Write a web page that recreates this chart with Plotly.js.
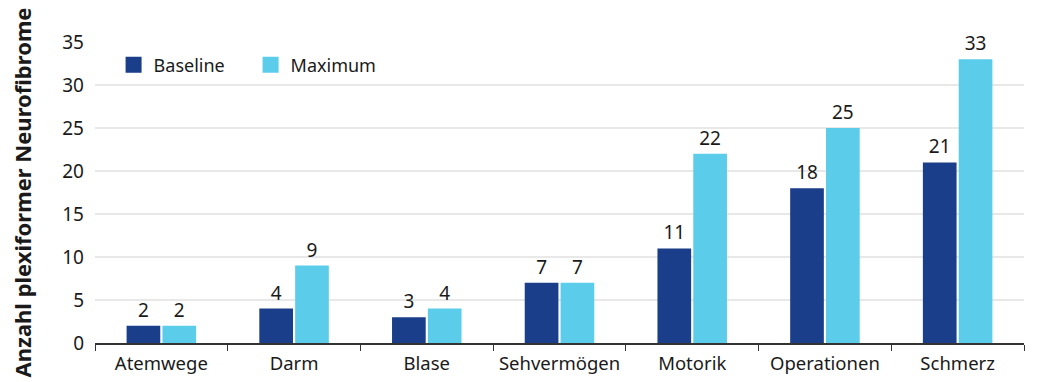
<!DOCTYPE html>
<html>
<head>
<meta charset="utf-8">
<script src="https://cdn.plot.ly/plotly-3.0.1.min.js"></script>
<style>html,body{margin:0;padding:0;background:#fff;}#chart{width:1054px;height:382px;}</style>
</head>
<body>
<div id="chart"></div>
<script>
const categories = ["Atemwege", "Darm", "Blase", "Sehvermögen", "Motorik", "Operationen", "Schmerz"];
const baseline = [2, 4, 3, 7, 11, 18, 21];
const maximum = [2, 9, 4, 7, 22, 25, 33];
const yTicks = [0, 5, 10, 15, 20, 25, 30, 35];
const seriesNames = ["Baseline", "Maximum"];
const seriesColors = ["#1a3e8a", "#5bcdea"];

const fontFam = "'Noto Sans', sans-serif";
const traces = [
  {type: "bar", name: seriesNames[0], x: categories, y: baseline, marker: {color: seriesColors[0]},
   text: baseline.map(String), textposition: "outside", cliponaxis: false, showlegend: false,
   textfont: {size: 19, color: "#1a1a1a", family: fontFam}},
  {type: "bar", name: seriesNames[1], x: categories, y: maximum, marker: {color: seriesColors[1]},
   text: maximum.map(String), textposition: "outside", cliponaxis: false, showlegend: false,
   textfont: {size: 19, color: "#1a1a1a", family: fontFam}},
  {type: "scatter", mode: "markers", name: seriesNames[0], x: [null], y: [null],
   marker: {symbol: "square", size: 21, color: seriesColors[0]}},
  {type: "scatter", mode: "markers", name: seriesNames[1], x: [null], y: [null],
   marker: {symbol: "square", size: 21, color: seriesColors[1]}}
];
const layout = {
  width: 1054, height: 382,
  margin: {l: 95, r: 30, t: 42, b: 39},
  paper_bgcolor: "#fff", plot_bgcolor: "#fff",
  font: {family: fontFam, size: 18, color: "#1a1a1a"},
  barmode: "group", bargap: 0.46, bargroupgap: 0.06,
  showlegend: true,
  legend: {orientation: "h", x: 0.02, y: 0.985, xanchor: "left", yanchor: "top",
           font: {size: 18, family: fontFam}, bgcolor: "rgba(0,0,0,0)", itemwidth: 30,
           entrywidth: 92},
  xaxis: {type: "category", showline: true, linecolor: "#333", linewidth: 1.5,
          ticks: "outside", tickson: "boundaries", ticklen: 6, tickcolor: "#333",
          showgrid: false, tickfont: {size: 18.5}, ticklabelstandoff: 3},
  yaxis: {range: [0, 35], tickvals: yTicks, showgrid: true, gridcolor: "#e8e8e8", gridwidth: 2,
          zeroline: false, showline: false, ticks: "", tickfont: {size: 19}, ticklabelstandoff: 10,
          title: {text: "<b>Anzahl plexiformer Neurofibrome</b>", font: {size: 22}, standoff: 24}}
};
Plotly.newPlot("chart", traces, layout, {displayModeBar: false, staticPlot: true});
</script>
</body>
</html>
